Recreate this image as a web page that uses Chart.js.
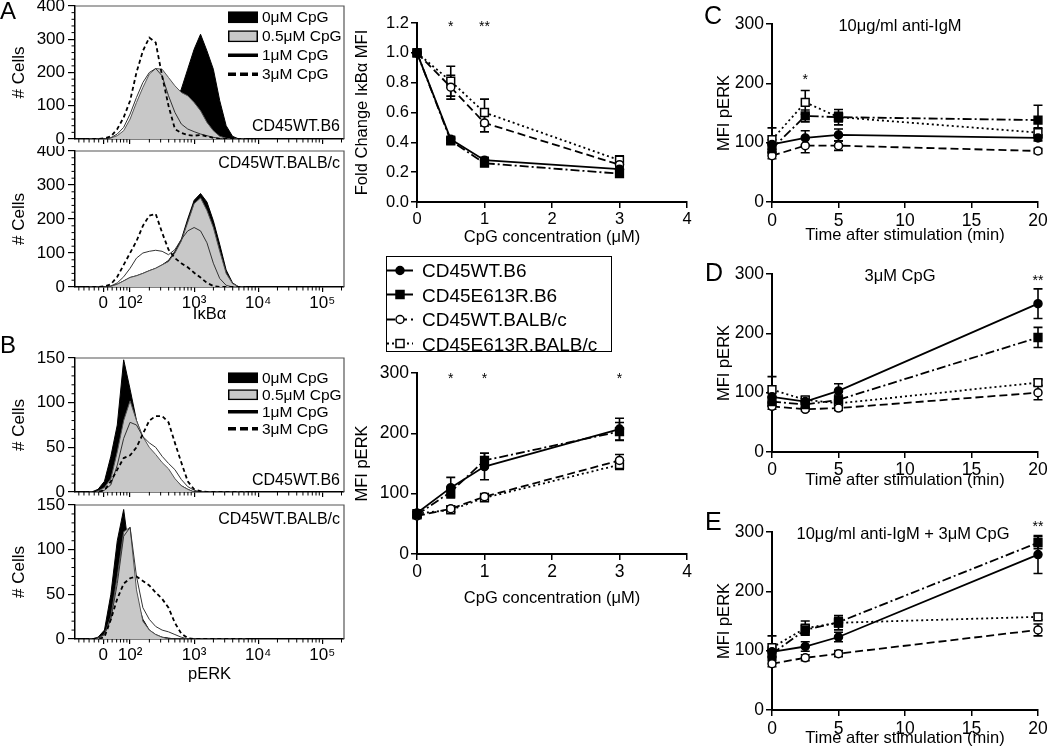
<!DOCTYPE html>
<html><head><meta charset="utf-8">
<script src="https://cdn.jsdelivr.net/npm/chart.js@4.4.1/dist/chart.umd.min.js"></script>
<style>
html,body{margin:0;padding:0;background:#fff}
body{width:1050px;height:751px;overflow:hidden;position:relative;font-family:'Liberation Sans',Arial,Helvetica,sans-serif;color:#000}
canvas{position:absolute}
.t{position:absolute;white-space:nowrap;line-height:1;transform:translateY(-50%)}
.c{transform:translate(-50%,-50%)}
.r{transform:translate(-100%,-50%)}
.leg{position:absolute}
.li{position:absolute;left:0;display:flex;align-items:center;white-space:nowrap;line-height:1;transform:translateY(-50%)}
</style></head><body>

<canvas id="hA1" width="350" height="146" style="left:0;top:0"></canvas>
<canvas id="hA2" width="350" height="180" style="left:0;top:146px"></canvas>
<canvas id="hB1" width="350" height="148" style="left:0;top:350px"></canvas>
<canvas id="hB2" width="350" height="190" style="left:0;top:498px"></canvas>
<canvas id="lA" width="345" height="250" style="left:352px;top:0"></canvas>
<canvas id="lB" width="345" height="250" style="left:352px;top:360px"></canvas>
<canvas id="lC" width="350" height="245" style="left:700px;top:0"></canvas>
<canvas id="lD" width="350" height="240" style="left:700px;top:250px"></canvas>
<canvas id="lE" width="350" height="261" style="left:700px;top:490px"></canvas>

<div class="t" style="left:0;top:11px;font-size:24px">A</div>
<div class="t" style="left:0;top:345px;font-size:24px">B</div>
<div class="t" style="left:704px;top:15px;font-size:25px">C</div>
<div class="t" style="left:705px;top:272px;font-size:25px">D</div>
<div class="t" style="left:705px;top:521px;font-size:25px">E</div>

<div class="t r" style="left:340px;top:126px;font-size:16px">CD45WT.B6</div>
<div class="t r" style="left:340px;top:163px;font-size:16px">CD45WT.BALB/c</div>
<div class="t r" style="left:340px;top:480px;font-size:16px">CD45WT.B6</div>
<div class="t r" style="left:340px;top:519px;font-size:16px">CD45WT.BALB/c</div>

<div class="t c" style="left:900px;top:25px;font-size:16.5px">10μg/ml anti-IgM</div>
<div class="t c" style="left:900px;top:275px;font-size:16.5px">3μM CpG</div>
<div class="t c" style="left:903px;top:533px;font-size:16.5px">10μg/ml anti-IgM + 3μM CpG</div>

<div id="legMain" class="leg" style="left:386px;top:256px;width:226px;height:96px;border:1.5px solid #000;box-sizing:border-box"></div>
<div id="legHA" class="leg" style="left:228px;top:0;width:115px;height:90px"></div>
<div id="legHB" class="leg" style="left:228px;top:360px;width:115px;height:80px"></div>

<script>
// ---------------- data ----------------
const seriesNames = ['CD45WT.B6','CD45E613R.B6','CD45WT.BALB/c','CD45E613R.BALB/c'];
const concLabels = ['0μM CpG','0.5μM CpG','1μM CpG','3μM CpG'];

// histogram display axis (decade units)
const histU = [1.3,1.4,1.5,1.6,1.7,1.8,1.9,2.0,2.1,2.2,2.3,2.4,2.5,2.6,2.7,2.8,2.9,3.0,3.1,3.2,3.3,3.4,3.5,3.6,3.7,3.8];
const histTickPos = [1.58,2,3,4,5];
const histTickLabels = ['0','10²','10³','10⁴','10⁵'];

// IκBα, CD45WT.B6
const ikbB6_0uM  = [0,0,0,0,0,2,5,10,15,22,30,40,55,75,105,150,210,270,315,265,210,115,40,8,0,0];
const ikbB6_05uM = [0,0,0,0,3,10,25,60,110,155,195,212,210,185,160,140,130,110,85,50,25,8,2,0,0,0];
const ikbB6_1uM  = [0,0,0,0,4,15,35,75,125,170,200,212,190,130,80,45,30,22,15,10,5,2,0,0,0,0];
const ikbB6_3uM  = [0,0,0,2,8,30,65,115,200,265,305,290,190,100,30,18,12,10,12,8,3,0,0,0,0,0];
// IκBα, CD45WT.BALB/c
const ikbBALB_0uM  = [0,0,0,0,2,8,18,28,33,40,48,55,65,78,105,140,200,255,275,250,195,125,50,12,0,0];
const ikbBALB_05uM = [0,0,0,0,2,8,18,28,33,40,48,55,65,75,100,135,190,245,262,225,175,105,40,10,0,0];
const ikbBALB_1uM  = [0,0,0,0,3,12,30,55,85,100,105,108,105,95,110,140,165,175,165,130,70,25,5,0,0,0];
const ikbBALB_3uM  = [0,0,0,2,8,30,65,100,135,180,210,215,160,110,85,70,58,42,28,12,3,0,0,0,0,0];
// pERK, CD45WT.B6
const perkHB6_0uM  = [0,0,3,12,40,75,148,115,80,60,48,38,30,22,14,7,3,0,0,0,0,0,0,0,0,0];
const perkHB6_05uM = [0,0,1,5,15,45,80,102,80,62,50,42,33,26,15,7,3,0,0,0,0,0,0,0,0,0];
const perkHB6_1uM  = [0,0,0,2,8,30,60,78,75,62,55,50,40,32,25,14,6,2,0,0,0,0,0,0,0,0];
const perkHB6_3uM  = [0,0,0,2,12,25,38,41,50,65,80,85,85,78,55,33,12,3,1,0,0,0,0,0,0,0];
// pERK, CD45WT.BALB/c
const perkHBALB_0uM  = [0,0,2,10,50,110,145,90,45,22,10,5,2,1,0,0,0,0,0,0,0,0,0,0,0,0];
const perkHBALB_05uM = [0,0,1,5,25,70,120,125,55,20,10,5,2,0,0,0,0,0,0,0,0,0,0,0,0,0];
const perkHBALB_1uM  = [0,0,1,5,22,62,115,125,70,35,22,14,10,8,5,2,0,0,0,0,0,0,0,0,0,0];
const perkHBALB_3uM  = [0,0,0,2,22,45,62,68,70,65,60,52,45,35,18,6,1,0,0,0,0,0,0,0,0,0];

// CpG dose response
const cpgX = [0,0.5,1,3];
const foldWT_B6      = [1.0,0.42,0.28,0.22];
const foldE613R_B6   = [1.0,0.41,0.26,0.19];
const foldWT_BALB    = [1.0,0.77,0.53,0.25];
const foldE613R_BALB = [1.0,0.81,0.60,0.28];
const foldErrWT_B6      = [0,0.02,0.02,0.02];
const foldErrE613R_B6   = [0,0.02,0.02,0.02];
const foldErrWT_BALB    = [0,0.08,0.06,0.03];
const foldErrE613R_BALB = [0,0.10,0.09,0.03];

const perkWT_B6      = [68,110,145,207];
const perkE613R_B6   = [65,103,155,203];
const perkWT_BALB    = [63,75,95,155];
const perkE613R_BALB = [67,73,93,148];
const perkErrWT_B6      = [5,17,22,18];
const perkErrE613R_B6   = [5,8,12,15];
const perkErrWT_BALB    = [3,5,5,10];
const perkErrE613R_BALB = [3,4,5,8];

// time courses
const timeX = [0,2.5,5,20];
const cWT_B6 = [97,108,113,108],  cE613R_B6 = [90,145,143,138],  cWT_BALB = [78,95,95,86],  cE613R_BALB = [105,168,143,117];
const cErrWT_B6 = [8,12,10,5], cErrE613R_B6 = [8,10,8,25], cErrWT_BALB = [5,12,8,4], cErrE613R_BALB = [20,20,13,8];
const dWT_B6 = [93,85,103,250],  dE613R_B6 = [85,80,88,193],  dWT_BALB = [77,72,74,100],  dE613R_BALB = [105,88,82,117];
const dErrWT_B6 = [8,5,12,25], dErrE613R_B6 = [8,5,8,17], dErrWT_BALB = [5,3,4,12], dErrE613R_BALB = [22,5,8,5];
const eWT_B6 = [98,107,123,262], eE613R_B6 = [95,135,148,282], eWT_BALB = [78,88,95,135], eE613R_BALB = [105,138,147,157];
const eErrWT_B6 = [8,8,8,32], eErrE613R_B6 = [8,8,8,10], eErrWT_BALB = [5,5,5,10], eErrE613R_BALB = [20,12,12,5];

// significance marks
const starsA = {x:[0.5,1], y:[1.19,1.19], text:['*','**']};
const starsB = {x:[0.5,1,3], y:[295,295,295], text:['*','*','*']};
const starsC = {x:[2.5], y:[210], text:['*']};
const starsD = {x:[20], y:[293], text:['**']};
const starsE = {x:[20], y:[313], text:['**']};

// ---------------- styles ----------------
const FONT = "'Liberation Sans', Arial, Helvetica, sans-serif";
Chart.defaults.font.family = FONT;
Chart.defaults.color = '#000';
const lineStyles = [
  {dash:[], ps:'circle', r:4, fill:'#000'},
  {dash:[9,3,2,3], ps:'rect', r:5.5, fill:'#000'},
  {dash:[8,4], ps:'circle', r:4, fill:'#fff'},
  {dash:[2,3], ps:'rect', r:5.5, fill:'#fff'}
];

// ---------------- plugins ----------------
const framePlugin = {id:'frame', afterDraw(c){
  const a=c.chartArea, ctx=c.ctx; ctx.save(); ctx.strokeStyle='#555'; ctx.lineWidth=1.2;
  ctx.beginPath(); ctx.moveTo(a.left,a.top); ctx.lineTo(a.right,a.top); ctx.lineTo(a.right,a.bottom); ctx.stroke(); ctx.restore();
}};
const minorPlugin = {id:'minorTicks', afterDraw(c, args, o){
  if(!o || !o.on) return;
  const ctx=c.ctx, xs=c.scales.x, ys=c.scales.y; ctx.save(); ctx.strokeStyle='#000'; ctx.lineWidth=1;
  (o.x||[]).forEach(v=>{const p=xs.getPixelForValue(v); if(p<xs.left-0.5||p>xs.right+0.5) return;
    ctx.beginPath(); ctx.moveTo(p,xs.top); ctx.lineTo(p,xs.top+o.len); ctx.stroke();});
  (o.y||[]).forEach(v=>{const p=ys.getPixelForValue(v);
    ctx.beginPath(); ctx.moveTo(ys.right,p); ctx.lineTo(ys.right-o.len,p); ctx.stroke();});
  ctx.restore();
}};
const errPlugin = {id:'errbars', beforeDatasetsDraw(c){
  const ys=c.scales.y, ctx=c.ctx;
  c.data.datasets.forEach((ds,i)=>{
    if(!ds.errors) return;
    const meta=c.getDatasetMeta(i);
    meta.data.forEach((pt,j)=>{
      const e=ds.errors[j]; if(!e) return;
      const v=ds.data[j].y, x=pt.x;
      const y1=ys.getPixelForValue(v+e), y2=ys.getPixelForValue(v-e);
      ctx.save(); ctx.strokeStyle='#000'; ctx.lineWidth=1.6; ctx.setLineDash([]);
      ctx.beginPath(); ctx.moveTo(x,y1); ctx.lineTo(x,y2);
      ctx.moveTo(x-4.5,y1); ctx.lineTo(x+4.5,y1); ctx.moveTo(x-4.5,y2); ctx.lineTo(x+4.5,y2);
      ctx.stroke(); ctx.restore();
    });
  });
}};
const starPlugin = {id:'stars', afterDraw(c, args, o){
  if(!o || !o.x) return;
  const ctx=c.ctx; ctx.save(); ctx.font='14px '+FONT; ctx.textAlign='center'; ctx.textBaseline='middle'; ctx.fillStyle='#000';
  o.x.forEach((xv,i)=>ctx.fillText(o.text[i], c.scales.x.getPixelForValue(xv), c.scales.y.getPixelForValue(o.y[i])+3));
  ctx.restore();
}};

// ---------------- helpers ----------------
function axis(kind, min, max, step, size, title, tpad, o={}){
  const ax = {type:'linear', min, max,
    ticks:{stepSize:step, font:{size:o.fs||16}, color:'#000', padding:o.tp!=null?o.tp:2, maxRotation:0, autoSkip:false},
    grid:{drawOnChartArea:false, drawTicks:true, tickLength:o.tl||6, color:'#000', lineWidth:o.gw||1.5},
    border:{display:true, color:'#000', width:o.bw||2},
    title:{display:!!title, text:title||'', font:{size:o.tfs||16.5}, color:'#000', padding:{top:tpad, bottom:tpad}}
  };
  if(o.cb) ax.ticks.callback = o.cb;
  if(o.abt) ax.afterBuildTicks = o.abt;
  if(kind==='x') ax.afterFit = s=>{s.height=size; s.paddingLeft=0; s.paddingRight=0;};
  else ax.afterFit = s=>{s.width=size; s.paddingTop=0; s.paddingBottom=0;};
  return ax;
}
function build(id, datasets, scales, pad, plugins, popts){
  return new Chart(document.getElementById(id), {type:'line', data:{datasets},
    options:{responsive:false, animation:false, devicePixelRatio:1, layout:{padding:pad},
      plugins:Object.assign({legend:{display:false}, tooltip:{enabled:false}}, popts||{}), scales},
    plugins});
}

// histogram minor tick positions
const histMinorX = [1.2,1.28,1.36,1.44,1.51,1.65,1.72,1.79,1.85,1.9,1.95];
[2,3,4].forEach(d=>{for(let k=2;k<=9;k++) histMinorX.push(d+Math.log10(k));});
histMinorX.push(5+Math.log10(2));

function histDatasets(c0,c05,c1,c3){
  const pts = a => histU.map((u,i)=>({x:u, y:a[i]}));
  return [
    {data:pts(c3), borderColor:'#000', borderWidth:1.8, borderDash:[4,3], fill:false, pointRadius:0, order:1},
    {data:pts(c1), borderColor:'#333', borderWidth:1, fill:false, pointRadius:0, order:2},
    {data:pts(c05), borderColor:'#555', borderWidth:1, backgroundColor:'#c8c8c8', fill:'origin', pointRadius:0, order:3},
    {data:pts(c0), borderColor:'#000', borderWidth:1, backgroundColor:'#000', fill:'origin', pointRadius:0, order:4}
  ];
}
function histChart(id, curves, yMax, yStep, yMinor, xH, showLabels, xTitle, xTPad, pad){
  const ymin=[]; for(let v=yMinor; v<yMax; v+=yMinor) if(v%yStep) ymin.push(v);
  const x = axis('x', 1.14, 5.34, 1, xH, xTitle, xTPad,
    {tl:5, tp:1, gw:1.2, bw:1.5, fs:17, abt: s=>{s.ticks = histTickPos.map(v=>({value:v}));},
     cb:(v,i)=> showLabels ? histTickLabels[i] : ''});
  const y = axis('y', 0, yMax, yStep, 75, '# Cells', 9, {tl:7, tp:3, gw:1.2, bw:1.5, fs:17, tfs:17});
  return build(id, histDatasets(...curves), {x,y}, pad, [framePlugin, minorPlugin],
    {minorTicks:{on:true, x:histMinorX, y:ymin, len:3.5}});
}

function seriesDatasets(xs, series, errs){
  return series.map((ys,k)=>({label:seriesNames[k], data:xs.map((x,i)=>({x, y:ys[i]})), errors:errs[k],
    borderColor:'#000', borderWidth:1.8, borderDash:lineStyles[k].dash, pointStyle:lineStyles[k].ps,
    pointRadius:lineStyles[k].r, pointBackgroundColor:lineStyles[k].fill, pointBorderColor:'#000',
    pointBorderWidth:1.5, clip:false, tension:0, fill:false}));
}
function lineChart(id, xs, series, errs, xr, yr, yW, xH, xTPad, yTitle, yTPad, pad, stars, o={}){
  const x = axis('x', xr[0], xr[1], xr[2], xH, xr[3], xTPad, {fs:o.fs, tp:o.xtp});
  const y = axis('y', yr[0], yr[1], yr[2], yW, yTitle, yTPad, {fs:o.fs, cb:o.ycb});
  return build(id, seriesDatasets(xs, series, errs), {x,y}, pad, [errPlugin, starPlugin], {stars});
}

// ---------------- charts ----------------
histChart('hA1', [ikbB6_0uM, ikbB6_05uM, ikbB6_1uM, ikbB6_3uM], 400, 100, 20, 7, false, '', 0, {top:6, right:6, left:0, bottom:0});
histChart('hA2', [ikbBALB_0uM, ikbBALB_05uM, ikbBALB_1uM, ikbBALB_3uM], 400, 100, 20, 39, true, 'IκBα', 2, {top:5, right:6, left:0, bottom:0});
histChart('hB1', [perkHB6_0uM, perkHB6_05uM, perkHB6_1uM, perkHB6_3uM], 150, 50, 10, 6, false, '', 0, {top:8, right:6, left:0, bottom:0});
histChart('hB2', [perkHBALB_0uM, perkHBALB_05uM, perkHBALB_1uM, perkHBALB_3uM], 150, 50, 10, 49, true, 'pERK', 4, {top:7, right:6, left:0, bottom:0});

lineChart('lA', cpgX, [foldWT_B6, foldE613R_B6, foldWT_BALB, foldE613R_BALB],
  [foldErrWT_B6, foldErrE613R_B6, foldErrWT_BALB, foldErrE613R_BALB],
  [0,4,1,'CpG concentration (μM)'], [0,1.2,0.2], 65, 48, 3, 'Fold Change IκBα MFI', 1, {top:23, right:10, left:0, bottom:0}, starsA,
  {fs:16.5, ycb: v=>v.toFixed(1)});
lineChart('lB', cpgX, [perkWT_B6, perkE613R_B6, perkWT_BALB, perkE613R_BALB],
  [perkErrWT_B6, perkErrE613R_B6, perkErrWT_BALB, perkErrE613R_BALB],
  [0,4,1,'CpG concentration (μM)'], [0,300,100], 65, 56, 2, 'MFI pERK', 1, {top:13, right:10, left:0, bottom:0}, starsB, {fs:17.5});
lineChart('lC', timeX, [cWT_B6, cE613R_B6, cWT_BALB, cE613R_BALB],
  [cErrWT_B6, cErrE613R_B6, cErrWT_BALB, cErrE613R_BALB],
  [0,20,5,'Time after stimulation (min)'], [0,300,100], 72, 43, 0, 'MFI pERK', 15, {top:24, right:12, left:0, bottom:0}, starsC, {fs:17.5, xtp:3});
lineChart('lD', timeX, [dWT_B6, dE613R_B6, dWT_BALB, dE613R_BALB],
  [dErrWT_B6, dErrE613R_B6, dErrWT_BALB, dErrE613R_BALB],
  [0,20,5,'Time after stimulation (min)'], [0,300,100], 72, 38, 0, 'MFI pERK', 15, {top:24, right:12, left:0, bottom:0}, starsD, {fs:17.5, xtp:2});
lineChart('lE', timeX, [eWT_B6, eE613R_B6, eWT_BALB, eE613R_BALB],
  [eErrWT_B6, eErrE613R_B6, eErrWT_BALB, eErrE613R_BALB],
  [0,20,5,'Time after stimulation (min)'], [0,300,100], 72, 41, 3, 'MFI pERK', 15, {top:42, right:12, left:0, bottom:0}, starsE, {fs:17.5, xtp:3});

// ---------------- legends ----------------
function sampleSVG(k){
  const st=lineStyles[k];
  const dash = st.dash.length ? `stroke-dasharray="${st.dash.join(',')}"` : '';
  const m = st.ps==='circle' ? `<circle cx="13" cy="7" r="4" fill="${st.fill}" stroke="#000" stroke-width="1.5"/>`
                             : `<rect x="9" y="3" width="8" height="8" fill="${st.fill}" stroke="#000" stroke-width="1.5"/>`;
  return `<svg width="26" height="14" style="display:block"><line x1="0" y1="7" x2="26" y2="7" stroke="#000" stroke-width="1.8" ${dash}/>${m}</svg>`;
}
const legMain = document.getElementById('legMain');
seriesNames.forEach((n,k)=>{
  const d=document.createElement('div'); d.className='li'; d.style.top=(13+k*24.5)+'px'; d.style.fontSize='19px';
  d.innerHTML = `<span style="margin-right:9px">${sampleSVG(k)}</span><span>${n}</span>`;
  legMain.appendChild(d);
});
function histSample(k, h){
  if(k===0) return `<svg width="30" height="${h}" style="display:block"><rect x="0" y="0" width="30" height="${h}" fill="#000"/></svg>`;
  if(k===1) return `<svg width="30" height="${h}" style="display:block"><rect x="0.75" y="0.75" width="28.5" height="${h-1.5}" fill="#c8c8c8" stroke="#000" stroke-width="1.5"/></svg>`;
  if(k===2) return `<svg width="30" height="${h}" style="display:block"><line x1="0" y1="${h/2}" x2="30" y2="${h/2}" stroke="#000" stroke-width="3.5"/></svg>`;
  return `<svg width="30" height="${h}" style="display:block"><line x1="0" y1="${h/2}" x2="30" y2="${h/2}" stroke="#000" stroke-width="3.5" stroke-dasharray="8,4"/></svg>`;
}
function histLegend(id, y0, dy, h){
  const el=document.getElementById(id);
  concLabels.forEach((n,k)=>{
    const d=document.createElement('div'); d.className='li'; d.style.top=(y0+k*dy)+'px'; d.style.fontSize='15.5px';
    d.innerHTML = `<span style="margin-right:4px">${histSample(k,h)}</span><span>${n}</span>`;
    el.appendChild(d);
  });
}
histLegend('legHA', 17, 19, 12);
histLegend('legHB', 18, 17, 11);
</script>
</body></html>
